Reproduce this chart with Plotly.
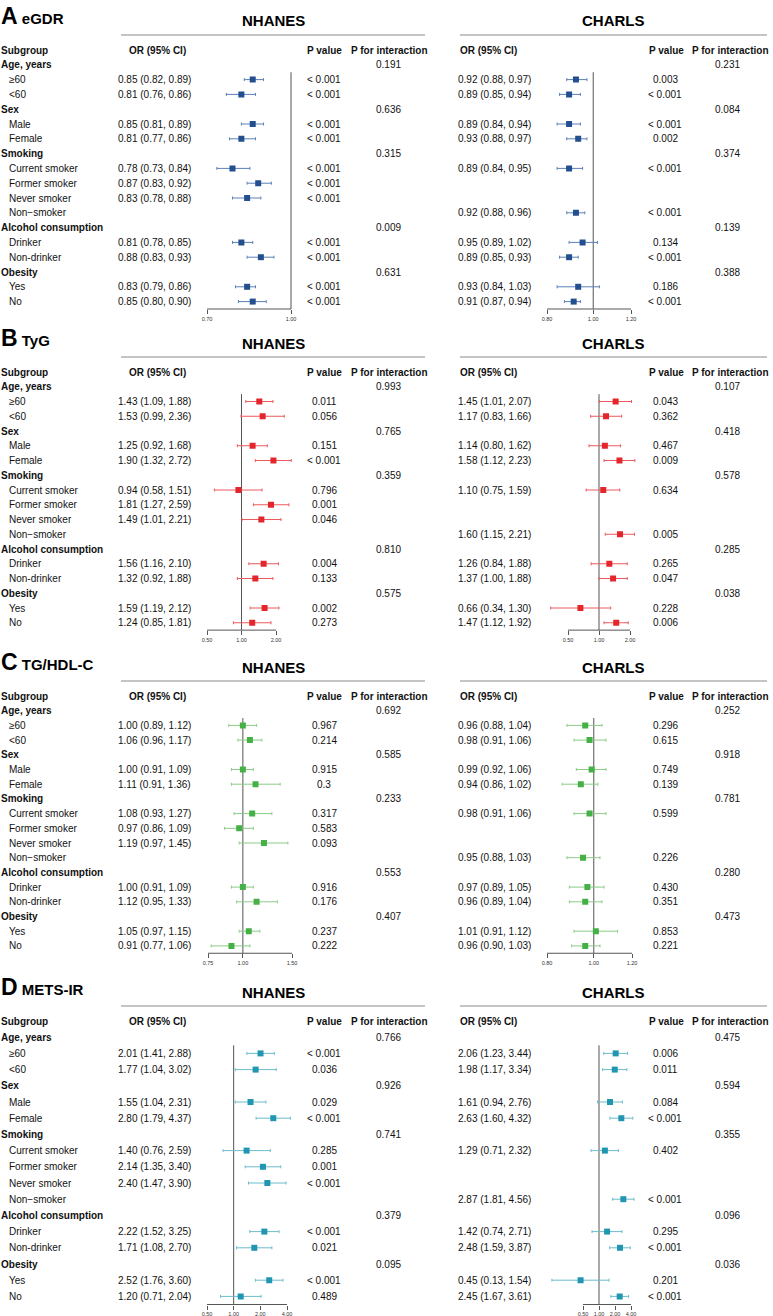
import plotly.graph_objects as go
import numpy as np

W, H = 773, 1316
FONT = "Liberation Sans, Arial, sans-serif"

rows = ["Age, years", "≥60", "<60", "Sex", "Male", "Female", "Smoking",
        "Current smoker", "Former smoker", "Never smoker", "Non−smoker",
        "Alcohol consumption", "Drinker", "Non-drinker", "Obesity", "Yes", "No"]
group_rows = [0, 3, 6, 11, 14]
item_rows = [1, 2, 4, 5, 7, 8, 9, 10, 12, 13, 15, 16]

##### eGDR #####
egdr_nhanes_or = [0.85, 0.81, 0.85, 0.81, 0.78, 0.87, 0.83, None, 0.81, 0.88, 0.83, 0.85]
egdr_nhanes_lo = [0.82, 0.76, 0.81, 0.77, 0.73, 0.83, 0.78, None, 0.78, 0.83, 0.79, 0.80]
egdr_nhanes_hi = [0.89, 0.86, 0.89, 0.86, 0.84, 0.92, 0.88, None, 0.85, 0.93, 0.86, 0.90]
egdr_nhanes_p = ["< 0.001"] * 7 + [None] + ["< 0.001"] * 4
egdr_nhanes_pint = ["0.191", "0.636", "0.315", "0.009", "0.631"]

egdr_charls_or = [0.92, 0.89, 0.89, 0.93, 0.89, None, None, 0.92, 0.95, 0.89, 0.93, 0.91]
egdr_charls_lo = [0.88, 0.85, 0.84, 0.88, 0.84, None, None, 0.88, 0.89, 0.85, 0.84, 0.87]
egdr_charls_hi = [0.97, 0.94, 0.94, 0.97, 0.95, None, None, 0.96, 1.02, 0.93, 1.03, 0.94]
egdr_charls_p = ["0.003", "< 0.001", "< 0.001", "0.002", "< 0.001", None, None,
                 "< 0.001", "0.134", "< 0.001", "0.186", "< 0.001"]
egdr_charls_pint = ["0.231", "0.084", "0.374", "0.139", "0.388"]

##### TyG #####
tyg_nhanes_or = [1.43, 1.53, 1.25, 1.90, 0.94, 1.81, 1.49, None, 1.56, 1.32, 1.59, 1.24]
tyg_nhanes_lo = [1.09, 0.99, 0.92, 1.32, 0.58, 1.27, 1.01, None, 1.16, 0.92, 1.19, 0.85]
tyg_nhanes_hi = [1.88, 2.36, 1.68, 2.72, 1.51, 2.59, 2.21, None, 2.10, 1.88, 2.12, 1.81]
tyg_nhanes_p = ["0.011", "0.056", "0.151", "< 0.001", "0.796", "0.001", "0.046", None,
                "0.004", "0.133", "0.002", "0.273"]
tyg_nhanes_pint = ["0.993", "0.765", "0.359", "0.810", "0.575"]

tyg_charls_or = [1.45, 1.17, 1.14, 1.58, 1.10, None, None, 1.60, 1.26, 1.37, 0.66, 1.47]
tyg_charls_lo = [1.01, 0.83, 0.80, 1.12, 0.75, None, None, 1.15, 0.84, 1.00, 0.34, 1.12]
tyg_charls_hi = [2.07, 1.66, 1.62, 2.23, 1.59, None, None, 2.21, 1.88, 1.88, 1.30, 1.92]
tyg_charls_p = ["0.043", "0.362", "0.467", "0.009", "0.634", None, None,
                "0.005", "0.265", "0.047", "0.228", "0.006"]
tyg_charls_pint = ["0.107", "0.418", "0.578", "0.285", "0.038"]

##### TG/HDL-C #####
tghdl_nhanes_or = [1.00, 1.06, 1.00, 1.11, 1.08, 0.97, 1.19, None, 1.00, 1.12, 1.05, 0.91]
tghdl_nhanes_lo = [0.89, 0.96, 0.91, 0.91, 0.93, 0.86, 0.97, None, 0.91, 0.95, 0.97, 0.77]
tghdl_nhanes_hi = [1.12, 1.17, 1.09, 1.36, 1.27, 1.09, 1.45, None, 1.09, 1.33, 1.15, 1.06]
tghdl_nhanes_p = ["0.967", "0.214", "0.915", "0.3", "0.317", "0.583", "0.093", None,
                  "0.916", "0.176", "0.237", "0.222"]
tghdl_nhanes_pint = ["0.692", "0.585", "0.233", "0.553", "0.407"]

tghdl_charls_or = [0.96, 0.98, 0.99, 0.94, 0.98, None, None, 0.95, 0.97, 0.96, 1.01, 0.96]
tghdl_charls_lo = [0.88, 0.91, 0.92, 0.86, 0.91, None, None, 0.88, 0.89, 0.89, 0.91, 0.90]
tghdl_charls_hi = [1.04, 1.06, 1.06, 1.02, 1.06, None, None, 1.03, 1.05, 1.04, 1.12, 1.03]
tghdl_charls_p = ["0.296", "0.615", "0.749", "0.139", "0.599", None, None,
                  "0.226", "0.430", "0.351", "0.853", "0.221"]
tghdl_charls_pint = ["0.252", "0.918", "0.781", "0.280", "0.473"]

##### METS-IR #####
mets_nhanes_or = [2.01, 1.77, 1.55, 2.80, 1.40, 2.14, 2.40, None, 2.22, 1.71, 2.52, 1.20]
mets_nhanes_lo = [1.41, 1.04, 1.04, 1.79, 0.76, 1.35, 1.47, None, 1.52, 1.08, 1.76, 0.71]
mets_nhanes_hi = [2.88, 3.02, 2.31, 4.37, 2.59, 3.40, 3.90, None, 3.25, 2.70, 3.60, 2.04]
mets_nhanes_p = ["< 0.001", "0.036", "0.029", "< 0.001", "0.285", "0.001", "< 0.001", None,
                 "< 0.001", "0.021", "< 0.001", "0.489"]
mets_nhanes_pint = ["0.766", "0.926", "0.741", "0.379", "0.095"]

mets_charls_or = [2.06, 1.98, 1.61, 2.63, 1.29, None, None, 2.87, 1.42, 2.48, 0.45, 2.45]
mets_charls_lo = [1.23, 1.17, 0.94, 1.60, 0.71, None, None, 1.81, 0.74, 1.59, 0.13, 1.67]
mets_charls_hi = [3.44, 3.34, 2.76, 4.32, 2.32, None, None, 4.56, 2.71, 3.87, 1.54, 3.61]
mets_charls_p = ["0.006", "0.011", "0.084", "< 0.001", "0.402", None, None,
                 "< 0.001", "0.295", "< 0.001", "0.201", "< 0.001"]
mets_charls_pint = ["0.475", "0.594", "0.355", "0.096", "0.036"]

# axis ticks for each forest column
egdr_ticks = ([0.70, 1.00], [0.80, 1.00, 1.20])
tyg_ticks = ([0.50, 1.00, 2.00], [0.50, 1.00, 2.00])
tghdl_ticks = ([0.75, 1.00, 1.50], [0.80, 1.00, 1.20])
mets_ticks = ([0.50, 1.00, 2.00, 4.00], [0.50, 1.00, 2.00, 4.00])

panels = [
    dict(letter="A", name="eGDR", ticks=egdr_ticks,
         nhanes=(egdr_nhanes_or, egdr_nhanes_lo, egdr_nhanes_hi, egdr_nhanes_p, egdr_nhanes_pint),
         charls=(egdr_charls_or, egdr_charls_lo, egdr_charls_hi, egdr_charls_p, egdr_charls_pint)),
    dict(letter="B", name="TyG", ticks=tyg_ticks,
         nhanes=(tyg_nhanes_or, tyg_nhanes_lo, tyg_nhanes_hi, tyg_nhanes_p, tyg_nhanes_pint),
         charls=(tyg_charls_or, tyg_charls_lo, tyg_charls_hi, tyg_charls_p, tyg_charls_pint)),
    dict(letter="C", name="TG/HDL-C", ticks=tghdl_ticks,
         nhanes=(tghdl_nhanes_or, tghdl_nhanes_lo, tghdl_nhanes_hi, tghdl_nhanes_p, tghdl_nhanes_pint),
         charls=(tghdl_charls_or, tghdl_charls_lo, tghdl_charls_hi, tghdl_charls_p, tghdl_charls_pint)),
    dict(letter="D", name="METS-IR", ticks=mets_ticks,
         nhanes=(mets_nhanes_or, mets_nhanes_lo, mets_nhanes_hi, mets_nhanes_p, mets_nhanes_pint),
         charls=(mets_charls_or, mets_charls_lo, mets_charls_hi, mets_charls_p, mets_charls_pint)),
]

# layout per panel: pixel row of "Subgroup" header, row step, colours,
# pixel x of first / last tick of each forest column
styles = [
    dict(top=50, step=14.8, col="#234f8e", ci="#5a80b8", tick_px=((207, 291), (547, 631))),
    dict(top=372, step=14.75, col="#e3262c", ci="#ec5a5e", tick_px=((207, 276), (568, 630))),
    dict(top=696, step=14.7, col="#45b045", ci="#8ccc86", tick_px=((208, 292), (547, 632))),
    dict(top=1021, step=16.2, col="#2196b1", ci="#6cbccd", tick_px=((207, 287), (583, 631))),
]

# column x positions (px): or text, p value, p interaction, forest domain, header centres
cols = [
    dict(or_x=117, p_x=324, pint_x=388, dom=(198, 304), or_hdr=157, p_hdr=324, pint_hdr=389,
         title="NHANES", title_x=273, line=(121, 425)),
    dict(or_x=457, p_x=665, pint_x=727, dom=(538, 644), or_hdr=488, p_hdr=666, pint_hdr=730,
         title="CHARLS", title_x=613, line=(460, 767)),
]


def ref(prefix, n):
    return prefix if n == 1 else prefix + str(n)


def txt(text, x, y, yref, anchor="left", bold=False, size=10, color="#111"):
    if bold:
        text = "<b>" + text + "</b>"
    return dict(text=text, x=x / W, xref="paper", y=y, yref=yref, xanchor=anchor,
                yanchor="middle", showarrow=False, borderpad=0,
                font=dict(family=FONT, size=size, color=color))


fig = go.Figure()
annotations = []
shapes = []
axes = {}

for i, (panel, st) in enumerate(zip(panels, styles)):
    yn = i + 1
    yr = ref("y", yn)
    top_px = st["top"] - st["step"] / 2
    bot_px = st["top"] + 17.5 * st["step"]
    axes[ref("yaxis", yn)] = dict(domain=[1 - bot_px / H, 1 - top_px / H], range=[16.5, -1.5],
                                  visible=False, fixedrange=True, anchor=ref("x", 2 * i + 1))

    # panel title
    annotations.append(dict(
        text="<b><span style='font-size:23px'>" + panel["letter"] + "</span> " + panel["name"] + "</b>",
        x=0, xref="paper", y=1 - (st["top"] - 34) / H, yref="paper", xanchor="left", yanchor="middle",
        showarrow=False, borderpad=0, font=dict(family=FONT, size=15, color="#000")))

    # row labels
    annotations.append(txt("Subgroup", 0, -1, yr, bold=True))
    for r, lab in enumerate(rows):
        if r in group_rows:
            annotations.append(txt(lab, 0, r, yr, bold=True))
        else:
            annotations.append(txt(lab, 8, r, yr))

    for k, key in enumerate(["nhanes", "charls"]):
        c = cols[k]
        ors, los, his, ps, pints = panel[key]
        xn = 2 * i + 1 + k
        xr = ref("x", xn)

        # header
        annotations.append(dict(text="<b>" + c["title"] + "</b>", x=c["title_x"] / W, xref="paper",
                                y=1 - (st["top"] - 29) / H, yref="paper", xanchor="center",
                                yanchor="middle", showarrow=False,
                                font=dict(family=FONT, size=15, color="#000")))
        shapes.append(dict(type="line", xref="paper", yref="paper",
                           x0=c["line"][0] / W, x1=c["line"][1] / W,
                           y0=1 - (st["top"] - 15) / H, y1=1 - (st["top"] - 15) / H,
                           line=dict(color="#8a8a8a", width=1)))
        annotations.append(txt("OR (95% CI)", c["or_hdr"], -1, yr, anchor="center", bold=True))
        annotations.append(txt("P value", c["p_hdr"], -1, yr, anchor="center", bold=True))
        annotations.append(txt("P for interaction", c["pint_hdr"], -1, yr, anchor="center", bold=True))

        for g, pv in zip(group_rows, pints):
            annotations.append(txt(pv, c["pint_x"], g, yr, anchor="center"))

        xs, ys, ep, em = [], [], [], []
        for r, o, lo, hi, p in zip(item_rows, ors, los, his, ps):
            if o is None:
                continue
            annotations.append(txt(f"{o:.2f} ({lo:.2f}, {hi:.2f})", c["or_x"], r, yr))
            annotations.append(txt(p, c["p_x"], r, yr, anchor="center"))
            xs.append(o)
            ys.append(r)
            ep.append(hi - o)
            em.append(o - lo)

        fig.add_trace(go.Scatter(
            x=xs, y=ys, mode="markers", xaxis=xr, yaxis=yr,
            marker=dict(symbol="square", size=6, color=st["col"]),
            error_x=dict(type="data", symmetric=False, array=ep, arrayminus=em,
                         color=st["ci"], thickness=1, width=1.5),
            showlegend=False, hoverinfo="skip"))

        # log axis scaled so ticks fall where they do in the figure
        ticks = panel["ticks"][k]
        p0, p1 = st["tick_px"][k]
        s = (p1 - p0) / (np.log10(ticks[-1]) - np.log10(ticks[0]))
        c0 = p0 - s * np.log10(ticks[0])
        d0, d1 = c["dom"]
        rng = [(d0 - c0) / s, (d1 - c0) / s]
        axes[ref("xaxis", xn)] = dict(
            type="log", domain=[d0 / W, d1 / W], range=rng, anchor=yr,
            tickvals=ticks, ticktext=[f"{t:.2f}" for t in ticks],
            ticks="outside", ticklen=4, tickwidth=1, tickcolor="#555",
            tickfont=dict(family=FONT, size=5.5, color="#333"),
            showgrid=False, zeroline=False, showline=False, fixedrange=True)

        def frac(v):
            return (np.log10(v) - rng[0]) / (rng[1] - rng[0])

        # axis line only between first and last tick
        shapes.append(dict(type="line", xref=xr + " domain", yref=yr + " domain",
                           x0=frac(ticks[0]), x1=frac(ticks[-1]), y0=0, y1=0,
                           line=dict(color="#555", width=1)))
        # reference line at OR = 1
        shapes.append(dict(type="line", xref=xr + " domain", yref=yr,
                           x0=frac(1.0), x1=frac(1.0), y0=0.5, y1=16.5, layer="below",
                           line=dict(color="#555", width=1)))

fig.update_layout(
    width=W, height=H,
    margin=dict(l=0, r=0, t=0, b=0),
    paper_bgcolor="white",
    plot_bgcolor="rgba(0,0,0,0)",
    showlegend=False,
    annotations=annotations,
    shapes=shapes,
    font=dict(family=FONT, color="#111"),
    **axes
)

# page body has a default margin; drop it so the figure sits at the window corner
fig.write_html("out.html", config={"displayModeBar": False},
               post_script="document.body.style.margin='0';")
